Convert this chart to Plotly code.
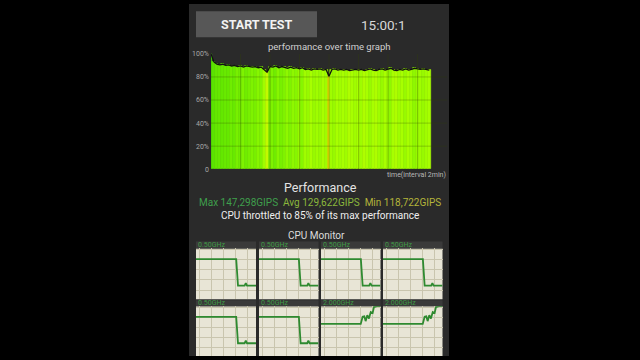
import plotly.graph_objects as go

# ---------------- data ----------------
time_min = [round(i * 0.2, 1) for i in range(75)]  # sample times (0 .. 14.8 min)
perf_pct = [100, 93, 91, 90.5, 91, 90, 90.5, 89.5, 90, 89,
            89.5, 88.5, 89.5, 89, 88.5, 89, 88, 88.5, 86.5, 84,
            89, 88.5, 89.5, 88, 89, 88.5, 87.5, 88.5, 87.5, 88,
            87, 88, 86.5, 87, 86, 87, 86.5, 87, 86, 86.5,
            80.5, 86.5, 87, 86, 86.5, 86, 86.5, 85.5, 86, 86.5,
            86, 86.5, 85.5, 86, 87, 86, 85.5, 86.5, 87, 86,
            86.5, 87.5, 86, 85.5, 86.5, 86, 87, 86, 86.5, 87.5,
            87, 86.5, 87, 86.5, 86]
x_ticks = [0, 2, 4, 6, 8, 10, 12, 14, 16]
y_ticks = [0, 20, 40, 60, 80, 100]
y_ticktext = ["0", "20%", "40%", "60%", "80%", "100%"]

stat_labels = ["Max 147,298GIPS", "Avg 129,622GIPS", "Min 118,722GIPS"]
timer_text = "15:00:1"
throttle_text = "CPU throttled to 85% of its max performance"

core_labels = ["0.50GHz", "0.50GHz", "0.50GHz", "0.50GHz",
               "0.50GHz", "0.50GHz", "2.000GHz", "2.000GHz"]
core_x_step = [0, 33.5, 35, 40.5, 41.5, 42.5, 50]
core_y_step = [79, 79, 27, 27, 32, 27, 27]
core_x_rise = [0, 33.4, 35, 36.4, 37.5, 38.9, 40.3, 41.8, 43.4, 44.5, 46.8, 50]
core_y_rise = [65, 65, 79, 80, 70.5, 82, 75.6, 88.5, 86.5, 98, 100, 100]
core_x = [core_x_step] * 6 + [core_x_rise] * 2
core_y = [core_y_step] * 6 + [core_y_rise] * 2

# ---------------- helpers ----------------
W, H = 640, 360
def fx(px):
    return px / W
def fy(py):
    return 1 - py / H

def perf_color(p):
    stops = [(80, (235, 215, 0)), (84, (195, 250, 0)), (86, (168, 255, 0)),
             (88, (135, 246, 0)), (90, (104, 234, 0)), (100, (64, 212, 0))]
    if p <= stops[0][0]:
        c = stops[0][1]
    elif p >= stops[-1][0]:
        c = stops[-1][1]
    else:
        for (p0, c0), (p1, c1) in zip(stops[:-1], stops[1:]):
            if p0 <= p <= p1:
                f = (p - p0) / (p1 - p0)
                c = tuple(int(round(a + (b - a) * f)) for a, b in zip(c0, c1))
                break
    return "rgb(%d,%d,%d)" % c

FONT = "Roboto"
fig = go.Figure()
shapes = []
annotations = []

# phone screen & button
shapes.append(dict(type="rect", xref="paper", yref="paper", x0=fx(189), x1=fx(449),
                   y0=0, y1=1, fillcolor="#2a2a2a", line_width=0, layer="below"))
shapes.append(dict(type="rect", xref="paper", yref="paper", x0=fx(196), x1=fx(317),
                   y0=fy(34), y1=fy(7.5), fillcolor="#575757", line_width=0, layer="below"))

# ---------------- main performance graph ----------------
colors = [perf_color(p) for p in perf_pct]
fig.add_trace(go.Bar(x=time_min, y=perf_pct, width=0.2, marker_color=colors,
                     marker_line_color=colors, marker_line_width=0.6,
                     xaxis="x", yaxis="y", hoverinfo="skip", showlegend=False))
fig.add_trace(go.Scatter(x=time_min, y=perf_pct, mode="lines",
                         line=dict(color="#111111", width=1.3),
                         xaxis="x", yaxis="y", hoverinfo="skip", showlegend=False))

grid_col = "rgba(50,70,0,0.28)"
for xv in x_ticks[1:-1]:
    shapes.append(dict(type="line", xref="x", yref="y", x0=xv, x1=xv, y0=y_ticks[0],
                       y1=y_ticks[-1], line=dict(color=grid_col, width=1), layer="above"))
for yv in y_ticks[1:-1]:
    shapes.append(dict(type="line", xref="x", yref="y", x0=x_ticks[0], x1=x_ticks[-1],
                       y0=yv, y1=yv, line=dict(color=grid_col, width=1), layer="above"))

layout = dict(
    width=W, height=H, margin=dict(l=0, r=0, t=0, b=0),
    paper_bgcolor="#000000", plot_bgcolor="#e8e5d6",
    bargap=0, showlegend=False,
    xaxis=dict(domain=[fx(211), fx(447)], range=[x_ticks[0], x_ticks[-1]],
               showgrid=False, zeroline=False, showticklabels=False, ticks="",
               showline=False, fixedrange=True),
    yaxis=dict(domain=[fy(169), fy(51)], range=[y_ticks[0], y_ticks[-1]],
               tickvals=y_ticks, ticktext=y_ticktext, showgrid=False, zeroline=False,
               ticks="", showline=False, ticklabelstandoff=1,
               tickfont=dict(family=FONT, size=7, color="#a8a8a8"), fixedrange=True),
)

# ---------------- CPU monitor panels ----------------
panel_x = [(196, 256), (259, 318.5), (321, 380.5), (383, 442.5)]
rows = [dict(head=(243, 250), body=(250, 302), yr=[0, 100]),
        dict(head=(303, 309), body=(309, 360), yr=[1.9, 100])]
for i in range(8):
    r = rows[i // 4]
    x0, x1 = panel_x[i % 4]
    n = i + 2
    xa, ya = "x%d" % n, "y%d" % n
    layout["xaxis%d" % n] = dict(domain=[fx(x0), fx(x1)], range=[0, 50], showgrid=True,
                                 gridcolor="#c9c5ae", gridwidth=1, tick0=3, dtick=10,
                                 zeroline=False, showticklabels=False, ticks="",
                                 fixedrange=True)
    layout["yaxis%d" % n] = dict(domain=[fy(r["body"][1]), fy(r["body"][0])], range=r["yr"],
                                 showgrid=True, gridcolor="#c9c5ae", gridwidth=1, tick0=18,
                                 dtick=20, zeroline=False, showticklabels=False, ticks="",
                                 fixedrange=True)
    shapes.append(dict(type="rect", xref="paper", yref="paper", x0=fx(x0), x1=fx(x1),
                       y0=fy(r["body"][1]), y1=fy(r["body"][0]), fillcolor="#e8e5d6",
                       line_width=0, layer="below"))
    shapes.append(dict(type="rect", xref="paper", yref="paper", x0=fx(x0), x1=fx(x1),
                       y0=fy(r["head"][1]), y1=fy(r["head"][0]), fillcolor="#3a3a3a",
                       line_width=0, layer="below"))
    annotations.append(dict(text=core_labels[i], xref="paper", yref="paper",
                            x=fx(x0 + 1), y=fy((r["head"][0] + r["head"][1]) / 2),
                            xanchor="left", yanchor="middle", showarrow=False, borderpad=0,
                            font=dict(family=FONT, size=7, color="#3f9a45")))
    fig.add_trace(go.Scatter(x=core_x[i], y=core_y[i], mode="lines",
                             line=dict(color="#2e8a30", width=1.8),
                             xaxis=xa, yaxis=ya, hoverinfo="skip", showlegend=False))

# ---------------- texts ----------------
def txt(t, x, y, size, color, anchor="center", bold=False):
    annotations.append(dict(text=("<b>%s</b>" % t) if bold else t, xref="paper", yref="paper",
                            x=fx(x), y=fy(y), xanchor=anchor, yanchor="middle",
                            showarrow=False, borderpad=0,
                            font=dict(family=FONT, size=size, color=color)))

txt("START TEST", 256.5, 21, 12.5, "#f2f2f2", bold=True)
txt(timer_text, 383, 21.5, 13.5, "#d8d8d8")
txt("performance over time graph", 329, 43, 9.5, "#d0d0d0")
txt("time(interval 2min)", 447, 174.5, 7, "#b8b8b8", anchor="right")
txt("Performance", 320, 187.5, 12.5, "#e4e4e4")
stat_colors = ["#3f9f4c", "#8bb83c", "#b4b43a"]
stats_html = "  ".join("<span style='color:%s'>%s</span>" % (c, s)
                       for c, s in zip(stat_colors, stat_labels))
txt(stats_html, 319.5, 203, 10, "#ffffff")
txt(throttle_text, 320, 216, 10, "#eeeeee")
txt("CPU Monitor", 316, 237, 10, "#dddddd")

layout["shapes"] = shapes
layout["annotations"] = annotations
fig.update_layout(**layout)

fig.write_html("out.html", config={"displayModeBar": False})
